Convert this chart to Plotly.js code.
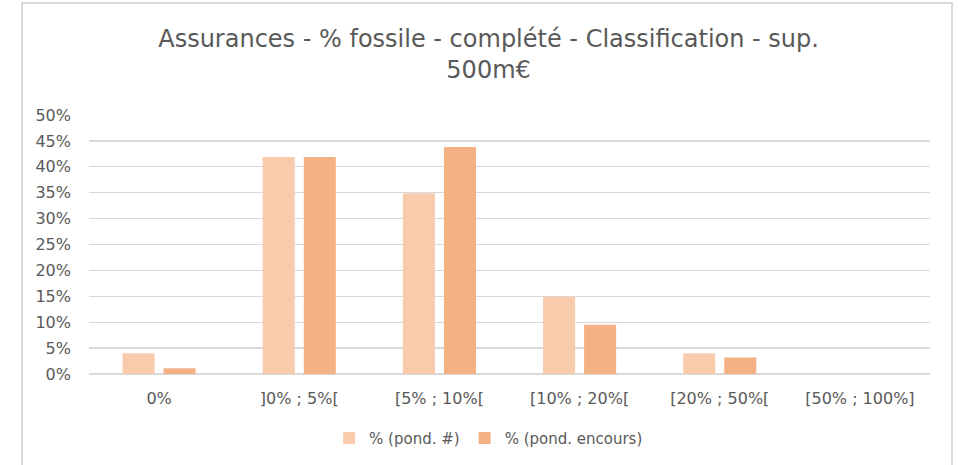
<!DOCTYPE html>
<html>
<head>
<meta charset="utf-8">
<script src="https://cdn.plot.ly/plotly-3.0.1.min.js"></script>
<style>
html,body{margin:0;padding:0;background:#fff;}
#wrap{position:relative;width:958px;height:465px;}
#chart{width:958px;height:465px;}
#frame{position:absolute;left:21px;top:2px;width:932px;height:470px;border:2px solid #D9D9D9;pointer-events:none;box-sizing:border-box;}
</style>
</head>
<body>
<div id="wrap"><div id="chart"></div><div id="frame"></div></div>
<script>
var categories = ["0%", "]0% ; 5%[", "[5% ; 10%[", "[10% ; 20%[", "[20% ; 50%[", "[50% ; 100%]"];
var pondCount = [0.040, 0.419, 0.349, 0.149, 0.040, 0.0];
var pondEncours = [0.011, 0.419, 0.438, 0.095, 0.032, 0.0];
var seriesNames = ["% (pond. #)", "% (pond. encours)"];
var yTicks = [0, 0.05, 0.10, 0.15, 0.20, 0.25, 0.30, 0.35, 0.40, 0.45, 0.50];

var font = "'DejaVu Sans', sans-serif";
var traces = [
  {type:"bar", x:categories, y:pondCount, name:seriesNames[0], marker:{color:"#F8CBAD"}, hoverinfo:"none"},
  {type:"bar", x:categories, y:pondEncours, name:seriesNames[1], marker:{color:"#F4B183"}, hoverinfo:"none"}
];
var layout = {
  width:958, height:465,
  margin:{l:89, r:28, t:115, b:91},
  paper_bgcolor:"#fff", plot_bgcolor:"#fff",
  font:{family:font, color:"#595959", size:16},
  title:{text:"Assurances - % fossile - complété - Classification - sup.<br>500m€", font:{family:font, size:24, color:"#595959"}, xref:"container", x:0.51, xanchor:"center", yref:"container", y:0.9, yanchor:"top"},
  barmode:"group", bargap:0.414, bargroupgap:0.22,
  xaxis:{type:"category", showgrid:false, zeroline:false, showline:false, ticks:"", tickfont:{size:16, color:"#595959"}, ticklabelstandoff:13},
  yaxis:{range:[0,0.5], tickvals:yTicks, tickformat:".0%", showgrid:true, gridcolor:"#D9D9D9", gridwidth:1.3, zeroline:true, zerolinecolor:"#D9D9D9", zerolinewidth:1.3, showline:false, ticks:"", tickfont:{size:16, color:"#595959"}, ticklabelstandoff:17},
  showlegend:true,
  legend:{orientation:"h", x:0.51, xref:"container", xanchor:"center", y:0.022, yref:"container", yanchor:"bottom", font:{size:15, color:"#595959"}, itemwidth:30, traceorder:"normal"}
};
Plotly.newPlot("chart", traces, layout, {displayModeBar:false, staticPlot:true});
</script>
</body>
</html>
